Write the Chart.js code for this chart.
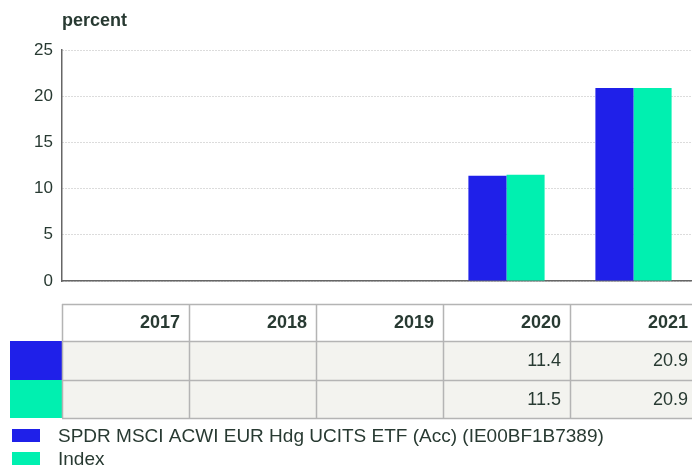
<!DOCTYPE html>
<html>
<head>
<meta charset="utf-8">
<script src="https://cdn.jsdelivr.net/npm/chart.js@4"></script>
<style>
  html, body { margin: 0; padding: 0; background: #fff; overflow: hidden; }
  #wrap { width: 697px; height: 466px; }
</style>
</head>
<body>
<div id="wrap"><canvas id="chart" width="697" height="466"></canvas></div>
<script>
// データ
const years = ['2017', '2018', '2019', '2020', '2021'];
const fundValues = [null, null, null, 11.4, 20.9];
const indexValues = [null, null, null, 11.5, 20.9];
const fundLabel = 'SPDR MSCI ACWI EUR Hdg UCITS ETF (Acc) (IE00BF1B7389)';
const indexLabel = 'Index';
const yTicks = [0, 5, 10, 15, 20, 25];
const unitLabel = 'percent';

const BLUE = '#1f20e9';
const GREEN = '#00f0b0';
const TEXT = '#283a32';
const FONT = 'Arial, "Liberation Sans", sans-serif';

// 表と凡例を描画するプラグイン
const tablePlugin = {
    id: 'tablePlugin',
    afterDraw(chart) {
        const ctx = chart.ctx;
        const x = chart.scales.x;
        const colW = x.width / years.length;
        const left = x.left;
        const right = x.right;
        const rows = [304, 341, 380, 418];

        ctx.save();
        // 単位
        ctx.fillStyle = TEXT;
        ctx.font = 'bold 18px ' + FONT;
        ctx.textAlign = 'left';
        ctx.textBaseline = 'middle';
        ctx.fillText(unitLabel, 62, 21);

        // 行の背景
        ctx.fillStyle = '#f3f3ef';
        ctx.fillRect(left, rows[1], right - left, rows[3] - rows[1]);

        // 色見本
        const datasets = chart.data.datasets;
        datasets.forEach((ds, i) => {
            ctx.fillStyle = ds.backgroundColor;
            ctx.fillRect(10, rows[i + 1], left - 10, rows[i + 2] - rows[i + 1]);
        });

        // 罫線
        ctx.strokeStyle = '#b4b4b4';
        ctx.lineWidth = 1.5;
        ctx.beginPath();
        rows.forEach(y => { ctx.moveTo(left, y + 0.5); ctx.lineTo(right, y + 0.5); });
        for (let i = 0; i <= years.length; i++) {
            const cx = Math.round(left + i * colW) + 0.5;
            ctx.moveTo(cx, rows[0]);
            ctx.lineTo(cx, rows[3]);
        }
        ctx.stroke();

        // 文字
        ctx.textAlign = 'right';
        ctx.fillStyle = TEXT;
        years.forEach((yr, i) => {
            const tx = left + (i + 1) * colW - 9;
            ctx.font = 'bold 18px ' + FONT;
            ctx.fillText(yr, tx, (rows[0] + rows[1]) / 2 + 1);
            ctx.font = '18px ' + FONT;
            datasets.forEach((ds, j) => {
                const v = ds.data[i];
                if (v !== null && v !== undefined) {
                    ctx.fillText(v.toFixed(1), tx, (rows[j + 1] + rows[j + 2]) / 2 + 1);
                }
            });
        });

        // 凡例
        ctx.textAlign = 'left';
        ctx.font = '19px ' + FONT;
        datasets.forEach((ds, i) => {
            const y = 429 + i * 23;
            ctx.fillStyle = ds.backgroundColor;
            ctx.fillRect(12, y, 28, 13);
            ctx.fillStyle = TEXT;
            ctx.fillText(ds.label, 58, y + 8);
        });
        ctx.restore();
    }
};

new Chart(document.getElementById('chart'), {
    type: 'bar',
    data: {
        labels: years,
        datasets: [
            { label: fundLabel, data: fundValues, backgroundColor: BLUE },
            { label: indexLabel, data: indexValues, backgroundColor: GREEN }
        ]
    },
    options: {
        responsive: false,
        animation: false,
        layout: { padding: { top: 50, bottom: 185, left: 0, right: 0 } },
        datasets: { bar: { categoryPercentage: 0.6, barPercentage: 1.0 } },
        plugins: { legend: { display: false }, tooltip: { enabled: false } },
        scales: {
            x: {
                grid: { display: false, drawTicks: false },
                ticks: { display: false },
                border: { display: true, color: '#666', width: 1.5 }
            },
            y: {
                min: 0,
                max: 25,
                afterBuildTicks: (scale) => { scale.ticks = yTicks.map(v => ({ value: v })); },
                afterFit: (scale) => { scale.width = 62; },
                ticks: {
                    color: TEXT,
                    font: { family: FONT, size: 17 },
                    padding: 9
                },
                grid: { color: '#b8b8b8', lineWidth: 1, drawTicks: false },
                border: { display: true, color: '#666', width: 1.5, dash: [1, 2] }
            }
        }
    },
    plugins: [tablePlugin]
});
</script>
</body>
</html>
